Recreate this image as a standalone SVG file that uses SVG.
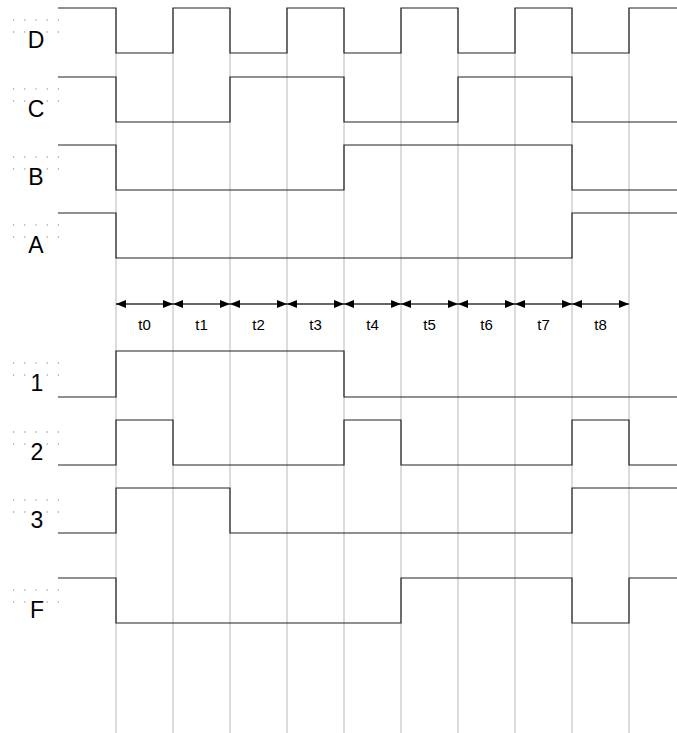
<svg xmlns="http://www.w3.org/2000/svg" width="677" height="733" viewBox="0 0 677 733">
<style>
.grid{stroke:#d0d0d0;stroke-width:1.5;fill:none}
.sig{stroke:#222;stroke-width:1.2;fill:none}
.lbl{font-family:"Liberation Sans",Arial,sans-serif;font-size:23px;fill:#000;text-anchor:middle}
.dots{fill:none;stroke:#777;stroke-width:1.2;stroke-dasharray:1.2 10}
.tl{font-family:"Liberation Sans",Arial,sans-serif;font-size:15px;fill:#000;text-anchor:middle}
.arr{stroke:#333;stroke-width:1.3;fill:none;marker-start:url(#ah);marker-end:url(#ah)}
</style>
<defs>
<marker id="ah" viewBox="0 0 10 8" refX="10" refY="4" markerWidth="10" markerHeight="8" markerUnits="userSpaceOnUse" orient="auto-start-reverse">
<path d="M0,0 L10,4 L0,8 z" fill="#000"/>
</marker>
</defs>
<rect width="677" height="733" fill="#fff"/>
<g id="grid" class="grid">
<line x1="116" y1="8" x2="116" y2="733"/>
<line x1="173" y1="8" x2="173" y2="733"/>
<line x1="230" y1="8" x2="230" y2="733"/>
<line x1="287" y1="8" x2="287" y2="733"/>
<line x1="344" y1="8" x2="344" y2="733"/>
<line x1="401" y1="8" x2="401" y2="733"/>
<line x1="458" y1="8" x2="458" y2="733"/>
<line x1="515" y1="8" x2="515" y2="733"/>
<line x1="572" y1="8" x2="572" y2="733"/>
<line x1="629" y1="8" x2="629" y2="733"/>
</g>
<g id="sig-D">
<path class="dots" d="M13,20 H60 M13,32 H60"/>
<text class="lbl" x="36" y="48">D</text>
<polyline class="sig" points="58,8 116,8 116,53 173,53 173,8 230,8 230,53 287,53 287,8 344,8 344,53 401,53 401,8 458,8 458,53 515,53 515,8 572,8 572,53 629,53 629,8 677,8"/>
</g>
<g id="sig-C">
<path class="dots" d="M13,89 H60 M13,101 H60"/>
<text class="lbl" x="36" y="117">C</text>
<polyline class="sig" points="58,77 116,77 116,122 230,122 230,77 344,77 344,122 458,122 458,77 572,77 572,122 677,122"/>
</g>
<g id="sig-B">
<path class="dots" d="M13,157 H60 M13,169 H60"/>
<text class="lbl" x="36" y="185">B</text>
<polyline class="sig" points="58,145 116,145 116,190 344,190 344,145 572,145 572,190 677,190"/>
</g>
<g id="sig-A">
<path class="dots" d="M13,225 H60 M13,237 H60"/>
<text class="lbl" x="36" y="253">A</text>
<polyline class="sig" points="58,213 116,213 116,258 572,258 572,213 677,213"/>
</g>
<g id="connectors">
<line class="arr" x1="116" y1="304" x2="173" y2="304"/>
<line class="arr" x1="173" y1="304" x2="230" y2="304"/>
<line class="arr" x1="230" y1="304" x2="287" y2="304"/>
<line class="arr" x1="287" y1="304" x2="344" y2="304"/>
<line class="arr" x1="344" y1="304" x2="401" y2="304"/>
<line class="arr" x1="401" y1="304" x2="458" y2="304"/>
<line class="arr" x1="458" y1="304" x2="515" y2="304"/>
<line class="arr" x1="515" y1="304" x2="572" y2="304"/>
<line class="arr" x1="572" y1="304" x2="629" y2="304"/>
</g>
<g id="time-labels">
<text class="tl" x="144.5" y="330">t0</text>
<text class="tl" x="201.5" y="330">t1</text>
<text class="tl" x="258.5" y="330">t2</text>
<text class="tl" x="315.5" y="330">t3</text>
<text class="tl" x="372.5" y="330">t4</text>
<text class="tl" x="429.5" y="330">t5</text>
<text class="tl" x="486.5" y="330">t6</text>
<text class="tl" x="543.5" y="330">t7</text>
<text class="tl" x="600.5" y="330">t8</text>
</g>
<g id="sig-1">
<path class="dots" d="M13,363 H60 M13,375 H60"/>
<text class="lbl" x="37" y="391">1</text>
<polyline class="sig" points="58,397 116,397 116,351 344,351 344,397 677,397"/>
</g>
<g id="sig-2">
<path class="dots" d="M13,432 H60 M13,444 H60"/>
<text class="lbl" x="37" y="460">2</text>
<polyline class="sig" points="58,465 116,465 116,420 173,420 173,465 344,465 344,420 401,420 401,465 572,465 572,420 629,420 629,465 677,465"/>
</g>
<g id="sig-3">
<path class="dots" d="M13,500 H60 M13,512 H60"/>
<text class="lbl" x="37" y="528">3</text>
<polyline class="sig" points="58,533 116,533 116,488 230,488 230,533 572,533 572,488 677,488"/>
</g>
<g id="sig-F">
<path class="dots" d="M13,590 H60 M13,602 H60"/>
<text class="lbl" x="37" y="618">F</text>
<polyline class="sig" points="58,578 116,578 116,623 401,623 401,578 572,578 572,623 629,623 629,578 677,578"/>
</g>
</svg>
